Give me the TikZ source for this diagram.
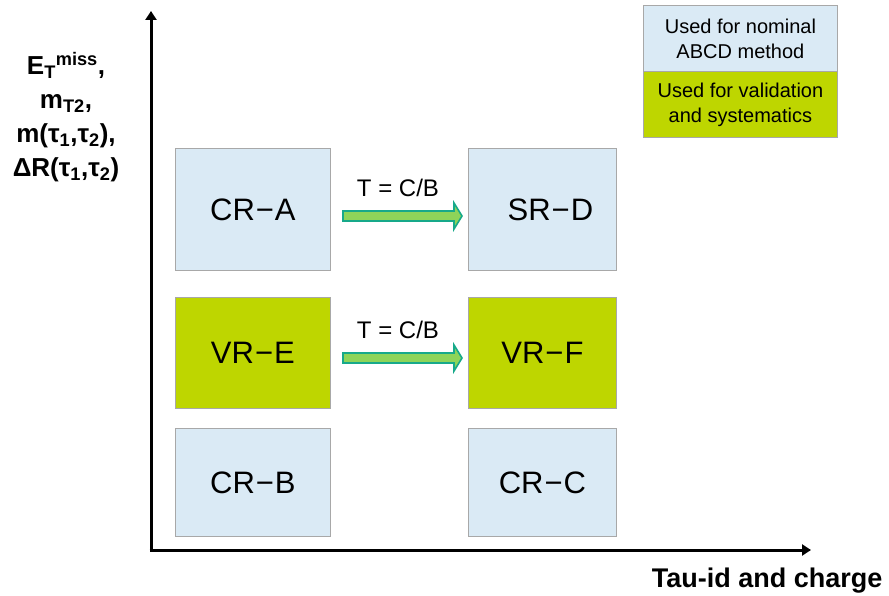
\documentclass[tikz,border=0pt]{standalone}
\usepackage{fontspec}
\setmainfont{Liberation Sans}
\usetikzlibrary{arrows.meta,calc}
\definecolor{lblue}{HTML}{DAEAF5}
\definecolor{lgreen}{HTML}{BED600}
\definecolor{bgrey}{HTML}{A8A8A8}
\definecolor{arrfill}{HTML}{8ED459}
\definecolor{arredge}{HTML}{17A98A}
\tikzset{
  region/.style={draw=bgrey, line width=0.8pt, minimum width=155pt, anchor=north west, font=\fontsize{31}{36}\selectfont, inner sep=0pt},
  bluebox/.style={region, fill=lblue},
  greenbox/.style={region, fill=lgreen},
  legendbox/.style={draw=bgrey, line width=0.8pt, minimum width=194pt, minimum height=66pt, anchor=north west, align=center, font=\fontsize{20}{25}\selectfont, inner sep=0pt},
  axis/.style={line width=3pt, -{Triangle[length=9pt,width=11pt]}},
  ratio/.style={font=\fontsize{24}{28}\selectfont},
  flow/.style={draw=arredge, fill=arrfill, line width=1.6pt},
}
\begin{document}
\begin{tikzpicture}[x=1pt,y=-1pt]
\useasboundingbox (0,0) rectangle (889,596);
% axes
\coordinate (o) at (151,550);
\coordinate (ytip) at (151,11);
\coordinate (xtip) at (811,550);
\draw[axis] ($(o)+(0,1.5)$) -- (ytip);
\draw[axis] ($(o)+(-1.5,0)$) -- (xtip);
% regions
\node[bluebox, minimum height=122pt] (A) at (175,148) {CR\kern1pt−\kern1ptA};
\node[bluebox, minimum height=122pt, minimum width=148pt] (D) at (468,148) {\hspace*{16pt}SR\kern1pt−\kern1ptD};
\node[greenbox, minimum height=111pt] (E) at (175,297) {VR\kern1pt−\kern1ptE};
\node[greenbox, minimum height=111pt, minimum width=148pt] (F) at (468,297) {VR\kern1pt−\kern1ptF};
\node[bluebox, minimum height=108pt] (B) at (175,428) {CR\kern1pt−\kern1ptB};
\node[bluebox, minimum height=108pt, minimum width=148pt] (C) at (468,428) {CR\kern1pt−\kern1ptC};
% arrows
\foreach \s/\t/\yc/\nm in {A/D/216/t1, E/F/358/t2}{
  \draw[flow] (343,\yc-5) -- (454,\yc-5) -- (454,\yc-13) -- (462,\yc) -- (454,\yc+13) -- (454,\yc+5) -- (343,\yc+5) -- cycle;
  \node[ratio] (\nm) at (398,\yc-28) {T = C/B};
}
% legend
\node[legendbox, fill=lblue] (L1) at (643,5) {Used for nominal\\ABCD method};
\node[legendbox, fill=lgreen, minimum height=66pt] (L2) at (643,71) {Used for validation\\and systematics};
% axis labels
\node[font=\bfseries\fontsize{26}{34}\selectfont, align=center] (ylab) at (66,117)
  {E\textsubscript{T}\textsuperscript{miss},\\m\textsubscript{T2},\\m(τ\textsubscript{1},τ\textsubscript{2}),\\ΔR(τ\textsubscript{1},τ\textsubscript{2})};
\node[font=\bfseries\fontsize{27}{30}\selectfont, anchor=east] (xlab) at (886,581) {Tau-id and charge};
\end{tikzpicture}
\end{document}
